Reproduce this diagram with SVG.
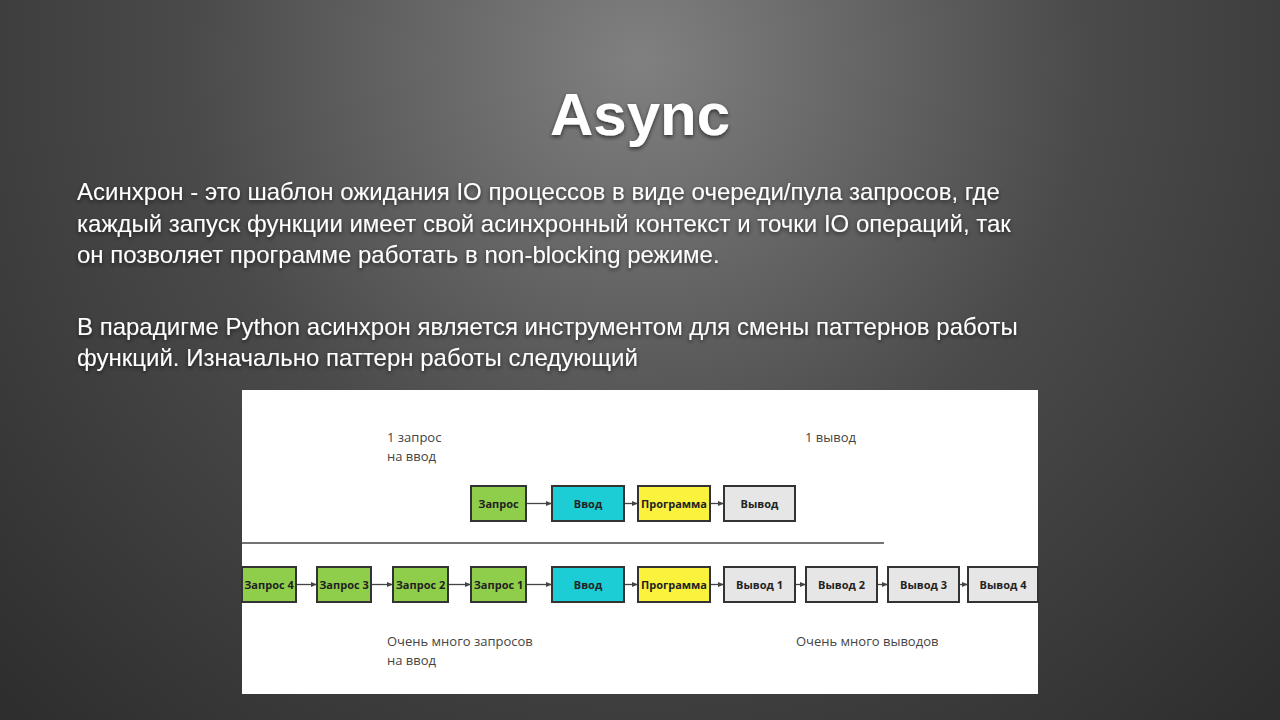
<svg xmlns="http://www.w3.org/2000/svg" width="1280" height="720" viewBox="0 0 1280 720">
<defs>
<radialGradient id="bg" cx="640" cy="60" r="900" gradientUnits="userSpaceOnUse">
<stop offset="0" stop-color="#808080"/><stop offset="0.5" stop-color="#4a4a4a"/><stop offset="1" stop-color="#2e2e2e"/>
</radialGradient>
<filter id="sh" x="-10%" y="-10%" width="120%" height="130%"><feDropShadow dx="0" dy="2" stdDeviation="2" flood-color="#000" flood-opacity="0.6"/></filter>
<marker id="ar" viewBox="0 0 10 10" refX="10" refY="5" markerWidth="5" markerHeight="5" orient="auto"><path d="M0,1 L10,5 L0,9 z" fill="#444"/></marker>
<style>
.t{font-family:"Liberation Sans",Arial,sans-serif;fill:#fff;font-size:24px}
.b{stroke:#333;stroke-width:2}
.g{fill:#8fce4a}.c{fill:#1ccdd6}.y{fill:#fbf23e}.w{fill:#e6e6e6}
.l{font-family:"Open Sans","Noto Sans",sans-serif;font-size:11px;font-weight:bold;fill:#222;text-anchor:middle}
.n{font-family:"Open Sans","Noto Sans",sans-serif;font-size:13px;fill:#444}
.e{stroke:#444;stroke-width:1.3;fill:none;marker-end:url(#ar)}
</style>
</defs>
<rect width="1280" height="720" fill="url(#bg)"/>
<text x="640" y="135" text-anchor="middle" font-family="Liberation Sans,Arial,sans-serif" font-weight="bold" font-size="60" fill="#fff" filter="url(#sh)">Async</text>
<g class="t" filter="url(#sh)">
<text x="77" y="200">Асинхрон - это шаблон ожидания IO процессов в виде очереди/пула запросов, где</text>
<text x="77" y="232">каждый запуск функции имеет свой асинхронный контекст и точки IO операций, так</text>
<text x="77" y="263">он позволяет программе работать в non-blocking режиме.</text>
<text x="77" y="335">В парадигме Python асинхрон является инструментом для смены паттернов работы</text>
<text x="77" y="366">функций. Изначально паттерн работы следующий</text>
</g>
<rect x="242" y="390" width="796" height="304" fill="#fff"/>
<line x1="242" y1="543" x2="884" y2="543" stroke="#444" stroke-width="1.5"/>
<text class="n" x="387" y="442">1 запрос</text><text class="n" x="387" y="461">на ввод</text>
<text class="n" x="805" y="442">1 вывод</text>
<text class="n" x="387" y="646">Очень много запросов</text><text class="n" x="387" y="665">на ввод</text>
<text class="n" x="796" y="646">Очень много выводов</text>
<g id="connectors">
<line class="e" x1="526" y1="503.5" x2="552" y2="503.5"/>
<line class="e" x1="624" y1="503.5" x2="638" y2="503.5"/>
<line class="e" x1="710" y1="503.5" x2="724" y2="503.5" stroke-width="2.5"/>
<line class="e" x1="296" y1="584.5" x2="317" y2="584.5"/>
<line class="e" x1="371" y1="584.5" x2="393" y2="584.5"/>
<line class="e" x1="448" y1="584.5" x2="471" y2="584.5"/>
<line class="e" x1="526" y1="584.5" x2="552" y2="584.5"/>
<line class="e" x1="624" y1="584.5" x2="638" y2="584.5"/>
<line class="e" x1="710" y1="584.5" x2="724" y2="584.5"/>
<line class="e" x1="795" y1="584.5" x2="806" y2="584.5"/>
<line class="e" x1="877" y1="584.5" x2="888" y2="584.5"/>
<line class="e" x1="959" y1="584.5" x2="968" y2="584.5"/>
</g>
<g id="n1"><rect class="b g" x="471" y="486" width="55" height="35"/><text class="l" x="498.5" y="507.5">Запрос</text></g>
<g id="n2"><rect class="b c" x="552" y="486" width="72" height="35"/><text class="l" x="588" y="507.5">Ввод</text></g>
<g id="n3"><rect class="b y" x="638" y="486" width="72" height="35"/><text class="l" x="674" y="507.5">Программа</text></g>
<g id="n4"><rect class="b w" x="724" y="486" width="71" height="35"/><text class="l" x="759.5" y="507.5">Вывод</text></g>
<g id="m1"><rect class="b g" x="242" y="567" width="54" height="35"/><text class="l" x="269" y="588.5">Запрос 4</text></g>
<g id="m2"><rect class="b g" x="317" y="567" width="54" height="35"/><text class="l" x="344" y="588.5">Запрос 3</text></g>
<g id="m3"><rect class="b g" x="393" y="567" width="55" height="35"/><text class="l" x="420.5" y="588.5">Запрос 2</text></g>
<g id="m4"><rect class="b g" x="471" y="567" width="55" height="35"/><text class="l" x="498.5" y="588.5">Запрос 1</text></g>
<g id="m5"><rect class="b c" x="552" y="567" width="72" height="35"/><text class="l" x="588" y="588.5">Ввод</text></g>
<g id="m6"><rect class="b y" x="638" y="567" width="72" height="35"/><text class="l" x="674" y="588.5">Программа</text></g>
<g id="m7"><rect class="b w" x="724" y="567" width="71" height="35"/><text class="l" x="759.5" y="588.5">Вывод 1</text></g>
<g id="m8"><rect class="b w" x="806" y="567" width="71" height="35"/><text class="l" x="841.5" y="588.5">Вывод 2</text></g>
<g id="m9"><rect class="b w" x="888" y="567" width="71" height="35"/><text class="l" x="923.5" y="588.5">Вывод 3</text></g>
<g id="m10"><rect class="b w" x="968" y="567" width="70" height="35"/><text class="l" x="1003" y="588.5">Вывод 4</text></g>
</svg>
